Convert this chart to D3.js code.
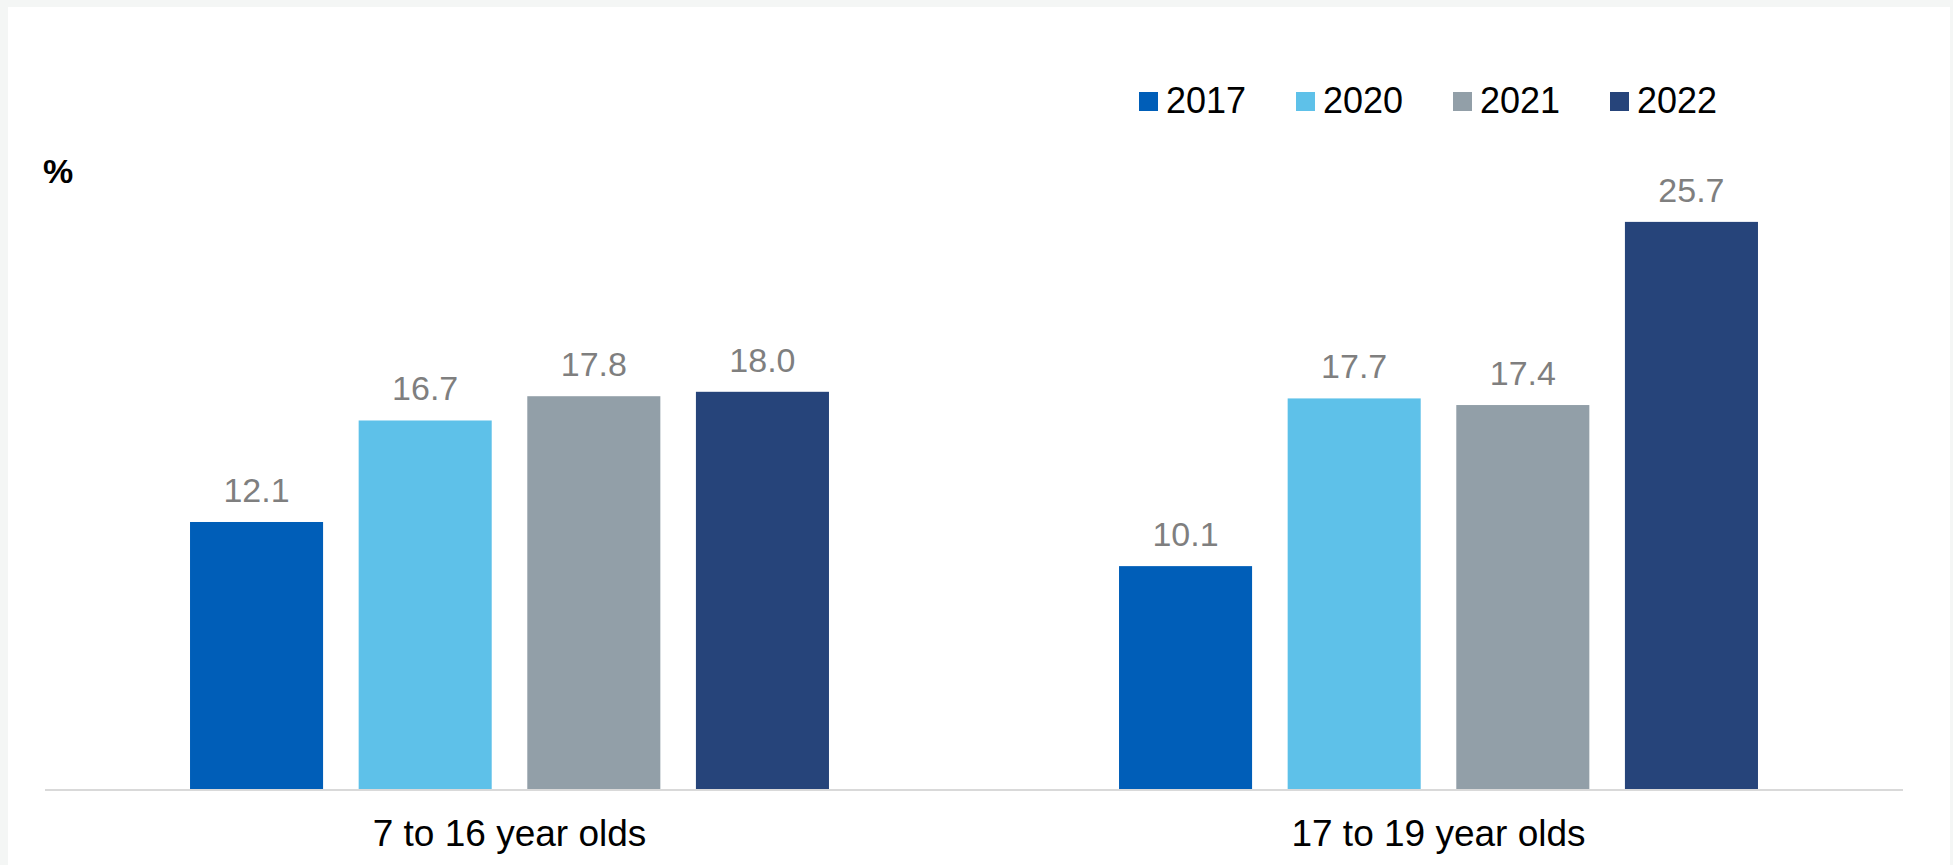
<!DOCTYPE html>
<html>
<head>
<meta charset="utf-8">
<script src="https://cdn.jsdelivr.net/npm/d3@7"></script>
<style>
  body { margin: 0; background: #f4f6f5; }
  svg { display: block; font-family: Arial, "Liberation Sans", sans-serif; }
</style>
</head>
<body>
<script>
const categories = ['7 to 16 year olds', '17 to 19 year olds']
const years = ['2017', '2020', '2021', '2022']
const values2017 = [12.1, 10.1]
const values2020 = [16.7, 17.7]
const values2021 = [17.8, 17.4]
const values2022 = [18.0, 25.7]
const colours = ['#005eb8', '#5ec1e9', '#929fa8', '#26447a']

const series = [values2017, values2020, values2021, values2022]
const data = categories.map((c, i) => ({
  cat: c,
  bars: years.map((yr, j) => ({year: yr, value: series[j][i]}))
}))

const W = 1953, H = 865

let svg = d3.select('body').append('svg')
    .attr('width', W)
    .attr('height', H)

// white panel
svg.append('rect')
    .attr('x', 8).attr('y', 7)
    .attr('width', 1942).attr('height', H - 7)
    .attr('fill', '#fff')

let x0 = d3.scaleBand()
    .domain(categories)
    .range([45, 1903])

let x1 = d3.scaleBand()
    .domain(years)
    .range([0, x0.bandwidth()])
    .paddingInner(0.211)
    .paddingOuter(0.86)

let y = d3.scaleLinear()
    .domain([0, 30])
    .range([789, 127])

let color = d3.scaleOrdinal().domain(years).range(colours)

// groups
let group = svg.selectAll('.group')
  .data(data)
  .join('g')
    .attr('class', 'group')
    .attr('transform', d => `translate(${x0(d.cat)},0)`)

group.selectAll('rect')
  .data(d => d.bars)
  .join('rect')
    .attr('x', d => x1(d.year))
    .attr('y', d => y(d.value))
    .attr('width', x1.bandwidth())
    .attr('height', d => y(0) - y(d.value))
    .attr('fill', d => color(d.year))

// value labels
group.selectAll('.val')
  .data(d => d.bars)
  .join('text')
    .attr('class', 'val')
    .attr('x', d => x1(d.year) + x1.bandwidth() / 2)
    .attr('y', d => y(d.value) - 20)
    .attr('text-anchor', 'middle')
    .attr('font-size', 34)
    .attr('fill', '#7f7f7f')
    .text(d => d.value.toFixed(1))

// x axis
let xAxis = d3.axisBottom(x0).tickSize(0).tickPadding(31)
let gx = svg.append('g')
    .attr('transform', `translate(0,${y(0)})`)
    .call(xAxis)
gx.select('.domain')
    .attr('stroke', '#d9d9d9')
    .attr('stroke-width', 2)
    .attr('d', `M45,1H1903`)
gx.selectAll('text')
    .attr('font-size', 37)
    .attr('fill', '#000')
    .attr('font-family', 'Arial, "Liberation Sans", sans-serif')

// unit label
svg.append('text')
    .attr('x', 43)
    .attr('y', 183)
    .attr('font-size', 34)
    .attr('font-weight', 'bold')
    .text('%')

// legend
let legend = svg.append('g')
  .selectAll('g')
  .data(years)
  .join('g')
    .attr('transform', (d, i) => `translate(${1139 + i * 157},92)`)

legend.append('rect')
    .attr('width', 19).attr('height', 19)
    .attr('fill', d => color(d))

legend.append('text')
    .attr('x', 27)
    .attr('y', 21)
    .attr('font-size', 36)
    .text(d => d)
</script>
</body>
</html>
